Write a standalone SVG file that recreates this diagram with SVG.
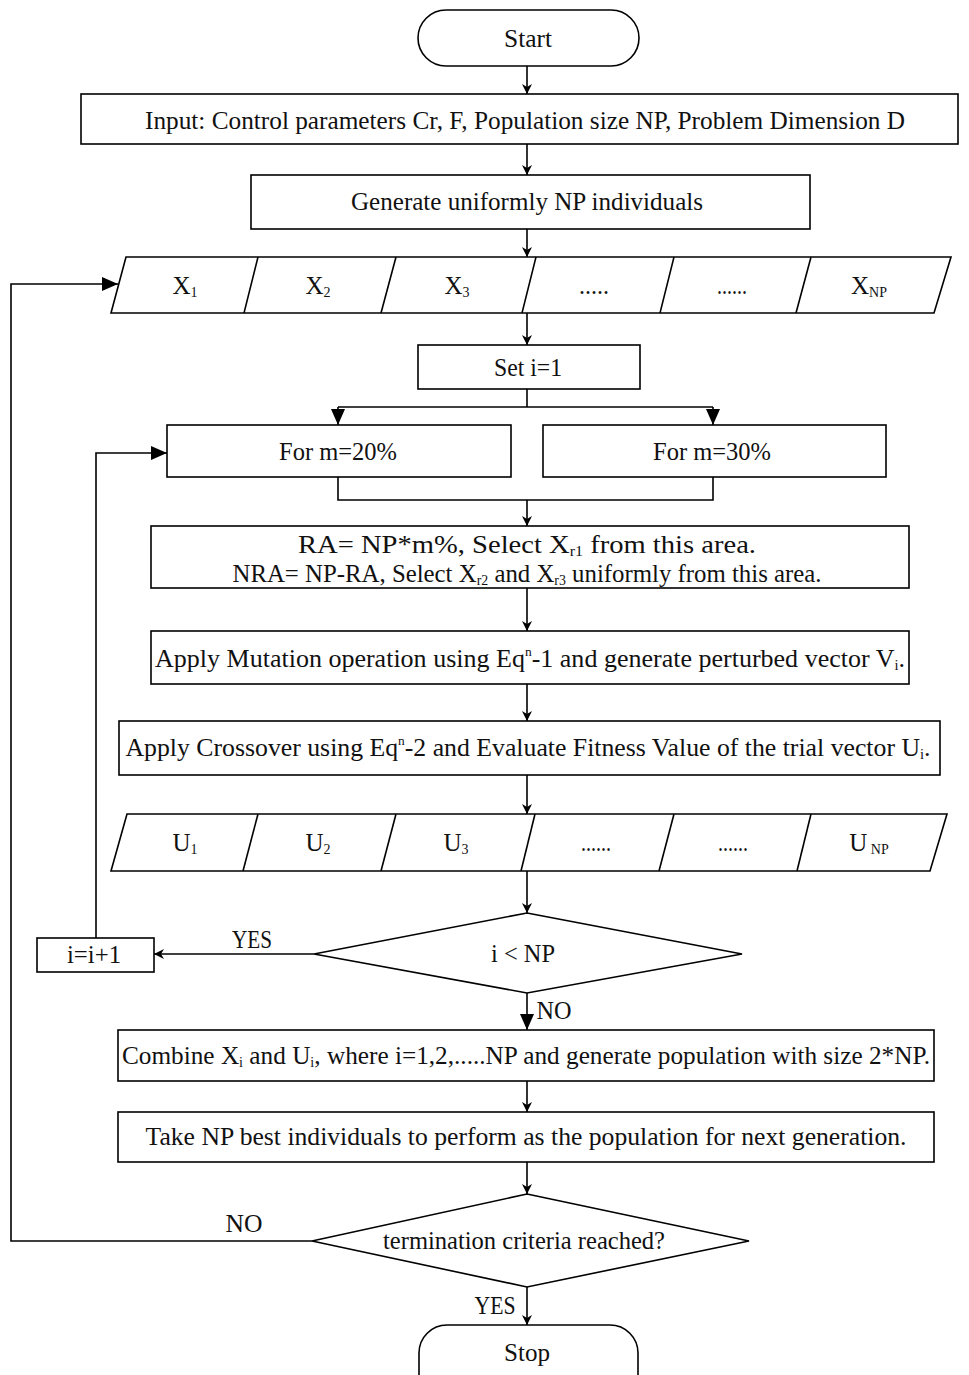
<svg xmlns="http://www.w3.org/2000/svg" width="969" height="1375" viewBox="0 0 969 1375">
<style>
.s{fill:#fff;stroke:#000;stroke-width:1.6}
.c{fill:none;stroke:#000;stroke-width:1.6}
text{font-family:"Liberation Serif","Times New Roman",serif;font-size:25px;fill:#111;text-anchor:middle}
.sub{font-size:14px}
.sup{font-size:13px}
</style>
<defs>
<marker id="a" markerUnits="userSpaceOnUse" markerWidth="12" markerHeight="12" refX="10" refY="5" orient="auto"><path d="M0,0 L10,5 L0,10 L3,5 Z" fill="#000"/></marker>
<marker id="b" markerUnits="userSpaceOnUse" markerWidth="18" markerHeight="16" refX="16" refY="7" orient="auto"><path d="M0,0 L16,7 L0,14 Z" fill="#000"/></marker>
</defs>
<rect width="969" height="1375" fill="#fff"/>

<g id="connectors">
<line class="c" x1="527" y1="66" x2="527" y2="94" marker-end="url(#a)"/>
<line class="c" x1="527" y1="144" x2="527" y2="175" marker-end="url(#a)"/>
<line class="c" x1="527" y1="229" x2="527" y2="257" marker-end="url(#a)"/>
<line class="c" x1="527" y1="313" x2="527" y2="345" marker-end="url(#a)"/>
<polyline class="c" points="527,389 527,407"/>
<line class="c" x1="338" y1="407" x2="713" y2="407"/>
<line class="c" x1="338" y1="407" x2="338" y2="425" marker-end="url(#b)"/>
<line class="c" x1="713" y1="407" x2="713" y2="425" marker-end="url(#b)"/>
<polyline class="c" points="338,477 338,500 713,500 713,477"/>
<line class="c" x1="527" y1="500" x2="527" y2="526" marker-end="url(#a)"/>
<line class="c" x1="527" y1="588" x2="527" y2="631" marker-end="url(#a)"/>
<line class="c" x1="527" y1="684" x2="527" y2="721" marker-end="url(#a)"/>
<line class="c" x1="527" y1="775" x2="527" y2="814" marker-end="url(#a)"/>
<line class="c" x1="527" y1="871" x2="527" y2="913" marker-end="url(#a)"/>
<line class="c" x1="314" y1="954" x2="154" y2="954" marker-end="url(#a)"/>
<polyline class="c" points="96,938 96,453 167,453" marker-end="url(#b)"/>
<line class="c" x1="527" y1="993" x2="527" y2="1030" marker-end="url(#b)"/>
<line class="c" x1="527" y1="1081" x2="527" y2="1112" marker-end="url(#a)"/>
<line class="c" x1="527" y1="1162" x2="527" y2="1194" marker-end="url(#a)"/>
<polyline class="c" points="312,1241 11,1241 11,284 118,284" marker-end="url(#b)"/>
<line class="c" x1="527" y1="1287" x2="527" y2="1325" marker-end="url(#a)"/>
<text x="252" y="948" textLength="40" lengthAdjust="spacingAndGlyphs">YES</text>
<text x="554" y="1019" textLength="35" lengthAdjust="spacingAndGlyphs">NO</text>
<text x="244" y="1232" textLength="37" lengthAdjust="spacingAndGlyphs">NO</text>
<text x="495" y="1314" textLength="41" lengthAdjust="spacingAndGlyphs">YES</text>
</g>

<g id="start">
<rect class="s" x="418" y="10" width="221" height="56" rx="28" ry="28"/>
<text x="528" y="47" textLength="48" lengthAdjust="spacingAndGlyphs">Start</text>
</g>

<g id="input">
<rect class="s" x="81" y="94" width="877" height="50"/>
<text x="525" y="129" textLength="760" lengthAdjust="spacingAndGlyphs">Input: Control parameters Cr, F, Population size NP, Problem Dimension D</text>
</g>

<g id="generate">
<rect class="s" x="251" y="175" width="559" height="54"/>
<text x="527" y="210" textLength="352" lengthAdjust="spacingAndGlyphs">Generate uniformly NP individuals</text>
</g>

<g id="xpop">
<polygon class="s" points="126,257 951,257 934,313 111,313"/>
<line class="c" x1="258" y1="257" x2="244" y2="313"/>
<line class="c" x1="396" y1="257" x2="381" y2="313"/>
<line class="c" x1="536" y1="257" x2="522" y2="313"/>
<line class="c" x1="674" y1="257" x2="660" y2="313"/>
<line class="c" x1="811" y1="257" x2="796" y2="313"/>
<text x="185" y="294">X<tspan class="sub" dy="3">1</tspan></text>
<text x="318" y="294">X<tspan class="sub" dy="3">2</tspan></text>
<text x="457" y="294">X<tspan class="sub" dy="3">3</tspan></text>
<text x="594" y="294" textLength="30" lengthAdjust="spacingAndGlyphs">.....</text>
<text x="732" y="294" textLength="30" lengthAdjust="spacingAndGlyphs">......</text>
<text x="869" y="294">X<tspan class="sub" dy="3">NP</tspan></text>
</g>

<g id="seti">
<rect class="s" x="418" y="345" width="222" height="44"/>
<text x="528" y="376" textLength="68" lengthAdjust="spacingAndGlyphs">Set i=1</text>
</g>

<g id="m20">
<rect class="s" x="167" y="425" width="344" height="52"/>
<text x="338" y="460" textLength="118" lengthAdjust="spacingAndGlyphs">For m=20%</text>
</g>

<g id="m30">
<rect class="s" x="543" y="425" width="343" height="52"/>
<text x="712" y="460" textLength="118" lengthAdjust="spacingAndGlyphs">For m=30%</text>
</g>

<g id="ra">
<rect class="s" x="151" y="526" width="758" height="62"/>
<text x="527" y="553" textLength="458" lengthAdjust="spacingAndGlyphs">RA= NP*m%, Select X<tspan class="sub" dy="3">r1</tspan><tspan dy="-3"> from this area.</tspan></text>
<text x="527" y="582" textLength="589" lengthAdjust="spacingAndGlyphs">NRA= NP-RA, Select X<tspan class="sub" dy="3">r2</tspan><tspan dy="-3"> and X</tspan><tspan class="sub" dy="3">r3</tspan><tspan dy="-3"> uniformly from this area.</tspan></text>
</g>

<g id="mutation">
<rect class="s" x="151" y="631" width="758" height="53"/>
<text x="530" y="667" textLength="750" lengthAdjust="spacingAndGlyphs">Apply Mutation operation using Eq<tspan class="sup" dy="-11">n</tspan><tspan dy="11">-1 and generate perturbed vector V</tspan><tspan class="sub" dy="3">i</tspan><tspan dy="-3">.</tspan></text>
</g>

<g id="crossover">
<rect class="s" x="119" y="721" width="821" height="54"/>
<text x="528" y="756" textLength="805" lengthAdjust="spacingAndGlyphs">Apply Crossover using Eq<tspan class="sup" dy="-11">n</tspan><tspan dy="11">-2 and Evaluate Fitness Value of the trial vector U</tspan><tspan class="sub" dy="3">i</tspan><tspan dy="-3">.</tspan></text>
</g>

<g id="upop">
<polygon class="s" points="127,814 947,814 930,871 111,871"/>
<line class="c" x1="258" y1="814" x2="243" y2="871"/>
<line class="c" x1="396" y1="814" x2="381" y2="871"/>
<line class="c" x1="535" y1="814" x2="521" y2="871"/>
<line class="c" x1="674" y1="814" x2="659" y2="871"/>
<line class="c" x1="811" y1="814" x2="797" y2="871"/>
<text x="185" y="851">U<tspan class="sub" dy="3">1</tspan></text>
<text x="318" y="851">U<tspan class="sub" dy="3">2</tspan></text>
<text x="456" y="851">U<tspan class="sub" dy="3">3</tspan></text>
<text x="596" y="851" textLength="30" lengthAdjust="spacingAndGlyphs">......</text>
<text x="733" y="851" textLength="30" lengthAdjust="spacingAndGlyphs">......</text>
<text x="869" y="851">U<tspan class="sub" dy="3"> NP</tspan></text>
</g>

<g id="cond1">
<polygon class="s" points="527,913 742,954 527,993 314,954"/>
<text x="523" y="962" textLength="64" lengthAdjust="spacingAndGlyphs">i &lt; NP</text>
</g>

<g id="incr">
<rect class="s" x="37" y="938" width="117" height="34"/>
<text x="94" y="963" textLength="54" lengthAdjust="spacingAndGlyphs">i=i+1</text>
</g>

<g id="combine">
<rect class="s" x="118" y="1030" width="816" height="51"/>
<text x="526" y="1064" textLength="808" lengthAdjust="spacingAndGlyphs">Combine X<tspan class="sub" dy="3">i</tspan><tspan dy="-3"> and U</tspan><tspan class="sub" dy="3">i</tspan><tspan dy="-3">, where i=1,2,.....NP and generate population with size 2*NP.</tspan></text>
</g>

<g id="take">
<rect class="s" x="118" y="1112" width="816" height="50"/>
<text x="526" y="1145" textLength="761" lengthAdjust="spacingAndGlyphs">Take NP best individuals to perform as the population for next generation.</text>
</g>

<g id="cond2">
<polygon class="s" points="527,1194 749,1241 527,1287 312,1241"/>
<text x="524" y="1249" textLength="282" lengthAdjust="spacingAndGlyphs">termination criteria reached?</text>
</g>

<g id="stop">
<rect class="s" x="419" y="1325" width="219" height="80" rx="28" ry="28"/>
<text x="527" y="1361" textLength="46" lengthAdjust="spacingAndGlyphs">Stop</text>
</g>
</svg>
